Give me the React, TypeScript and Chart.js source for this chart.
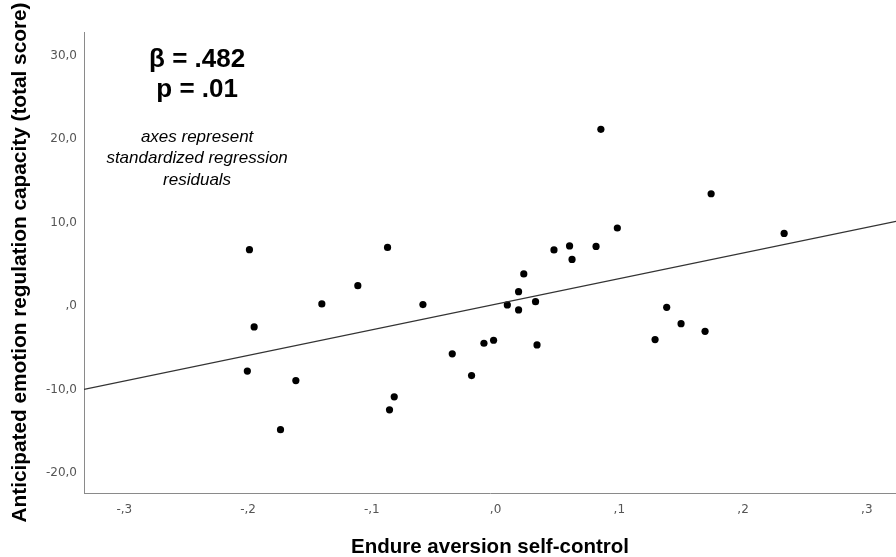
import React, { useEffect, useRef } from 'react';
import { Chart, registerables } from 'chart.js';

Chart.register(...registerables);

// Residual scatter points (x: Endure aversion self-control, y: anticipated ER capacity)
const residualX = [
  -0.1989, -0.1951, -0.2006, -0.1614, -0.1738,
  -0.1404, -0.1113, -0.0873, -0.0587, -0.0819, -0.0857,
  -0.0350, -0.0194, -0.0094, -0.0016,
  0.0095, 0.0186, 0.0186, 0.0228, 0.0323, 0.0335,
  0.0618, 0.0472, 0.0598, 0.0812, 0.0851, 0.0984,
  0.1742, 0.2332, 0.1383, 0.1499, 0.1693, 0.1289,
];
const residualY = [
  6.73, -2.51, -7.80, -8.94, -14.82,
  0.24, 2.43, 7.01, 0.16, -10.89, -12.44,
  -5.74, -8.34, -4.47, -4.11,
  0.12, 1.71, -0.48, 3.83, 0.51, -4.67,
  5.57, 6.70, 7.18, 7.13, 21.15, 9.33,
  13.43, 8.68, -0.17, -2.12, -3.04, -4.03,
];

// Fitted regression line endpoints
const fitLineX = [-0.3326, 0.3236];
const fitLineY = [-10.0, 10.12];

// Axis ranges and ticks
const xRange = [-0.3326, 0.3236];
const yRange = [-22.4, 32.8];
const xTickValues = [-0.3, -0.2, -0.1, 0, 0.1, 0.2, 0.3];
const xTickLabels = ['-,3', '-,2', '-,1', ',0', ',1', ',2', ',3'];
const yTickValues = [-20, -10, 0, 10, 20, 30];
const yTickLabels = ['-20,0', '-10,0', ',0', '10,0', '20,0', '30,0'];

// Annotation text
const statLines = ['β = .482', 'p = .01'];
const statLineY = [29.45, 25.85];
const noteLines = ['axes represent', 'standardized regression', 'residuals'];
const noteLineY = [20.25, 17.65, 15.1];
const annotationX = -0.2412;

const xTitle = 'Endure aversion self-control';
const yTitle = 'Anticipated emotion regulation capacity (total score)';

function labelFor(values: number[], labels: string[], v: number): string {
  const i = values.findIndex((t) => Math.abs(t - v) < 1e-9);
  return i >= 0 ? labels[i] : '';
}

const annotationPlugin = {
  id: 'annotationText',
  afterDatasetsDraw(chart: any) {
    const { ctx } = chart;
    const xs = chart.scales.x;
    const ys = chart.scales.y;
    const px = xs.getPixelForValue(annotationX);
    ctx.save();
    ctx.fillStyle = '#000';
    ctx.textAlign = 'center';
    ctx.textBaseline = 'middle';
    ctx.font = 'bold 26px "Liberation Sans", Arial, sans-serif';
    statLines.forEach((t, i) => ctx.fillText(t, px, ys.getPixelForValue(statLineY[i])));
    ctx.font = 'italic 17px "Liberation Sans", Arial, sans-serif';
    noteLines.forEach((t, i) => ctx.fillText(t, px, ys.getPixelForValue(noteLineY[i])));
    ctx.restore();
  },
};

export default function App() {
  const canvasRef = useRef<HTMLCanvasElement | null>(null);

  useEffect(() => {
    if (!canvasRef.current) return;
    const scatterData = residualX.map((x, i) => ({ x, y: residualY[i] }));
    const lineData = fitLineX.map((x, i) => ({ x, y: fitLineY[i] }));
    const tickFont = { family: '"DejaVu Sans", sans-serif', size: 12 };
    const titleFamily = '"Liberation Sans", Arial, sans-serif';
    const chart = new Chart(canvasRef.current, {
      type: 'scatter',
      data: {
        datasets: [
          {
            type: 'line',
            data: lineData,
            borderColor: '#333',
            borderWidth: 1.3,
            pointRadius: 0,
            fill: false,
            showLine: true,
          } as any,
          {
            data: scatterData,
            backgroundColor: '#000',
            borderWidth: 0,
            pointRadius: 3.6,
          },
        ],
      },
      options: {
        animation: false,
        responsive: false,
        layout: { autoPadding: false, padding: { top: 32, right: 0, left: 0, bottom: 0 } },
        plugins: { legend: { display: false }, tooltip: { enabled: false } },
        scales: {
          x: {
            type: 'linear',
            min: xRange[0],
            max: xRange[1],
            afterBuildTicks: (s: any) => {
              s.ticks = xTickValues.map((v) => ({ value: v }));
            },
            afterFit: (s: any) => {
              s.height = 64;
            },
            ticks: {
              callback: (v: any) => labelFor(xTickValues, xTickLabels, Number(v)),
              font: tickFont,
              color: '#555',
              padding: 10,
              maxRotation: 0,
              autoSkip: false,
            },
            grid: { display: false, drawTicks: false },
            border: { display: true, color: '#8a8a8a', width: 1 },
            title: {
              display: true,
              text: xTitle,
              font: { family: titleFamily, size: 20.5, weight: 'bold' },
              color: '#000',
              padding: { top: 0, bottom: -3 },
            },
          },
          y: {
            type: 'linear',
            min: yRange[0],
            max: yRange[1],
            afterBuildTicks: (s: any) => {
              s.ticks = yTickValues.map((v) => ({ value: v }));
            },
            afterFit: (s: any) => {
              s.width = 84;
            },
            ticks: {
              callback: (v: any) => labelFor(yTickValues, yTickLabels, Number(v)),
              font: tickFont,
              color: '#555',
              padding: 7,
              autoSkip: false,
            },
            grid: { display: false, drawTicks: false },
            border: { display: true, color: '#8a8a8a', width: 1 },
            title: {
              display: true,
              text: yTitle,
              font: { family: titleFamily, size: 20.8, weight: 'bold' },
              color: '#000',
              padding: { top: 7.5, bottom: 0 },
            },
          },
        },
      },
      plugins: [annotationPlugin],
    });
    return () => chart.destroy();
  }, []);

  return (
    <div style={{ position: 'fixed', left: 0, top: 0, width: 896, height: 557, background: '#fff' }}>
      <canvas ref={canvasRef} width={896} height={557} style={{ display: 'block' }} />
    </div>
  );
}
